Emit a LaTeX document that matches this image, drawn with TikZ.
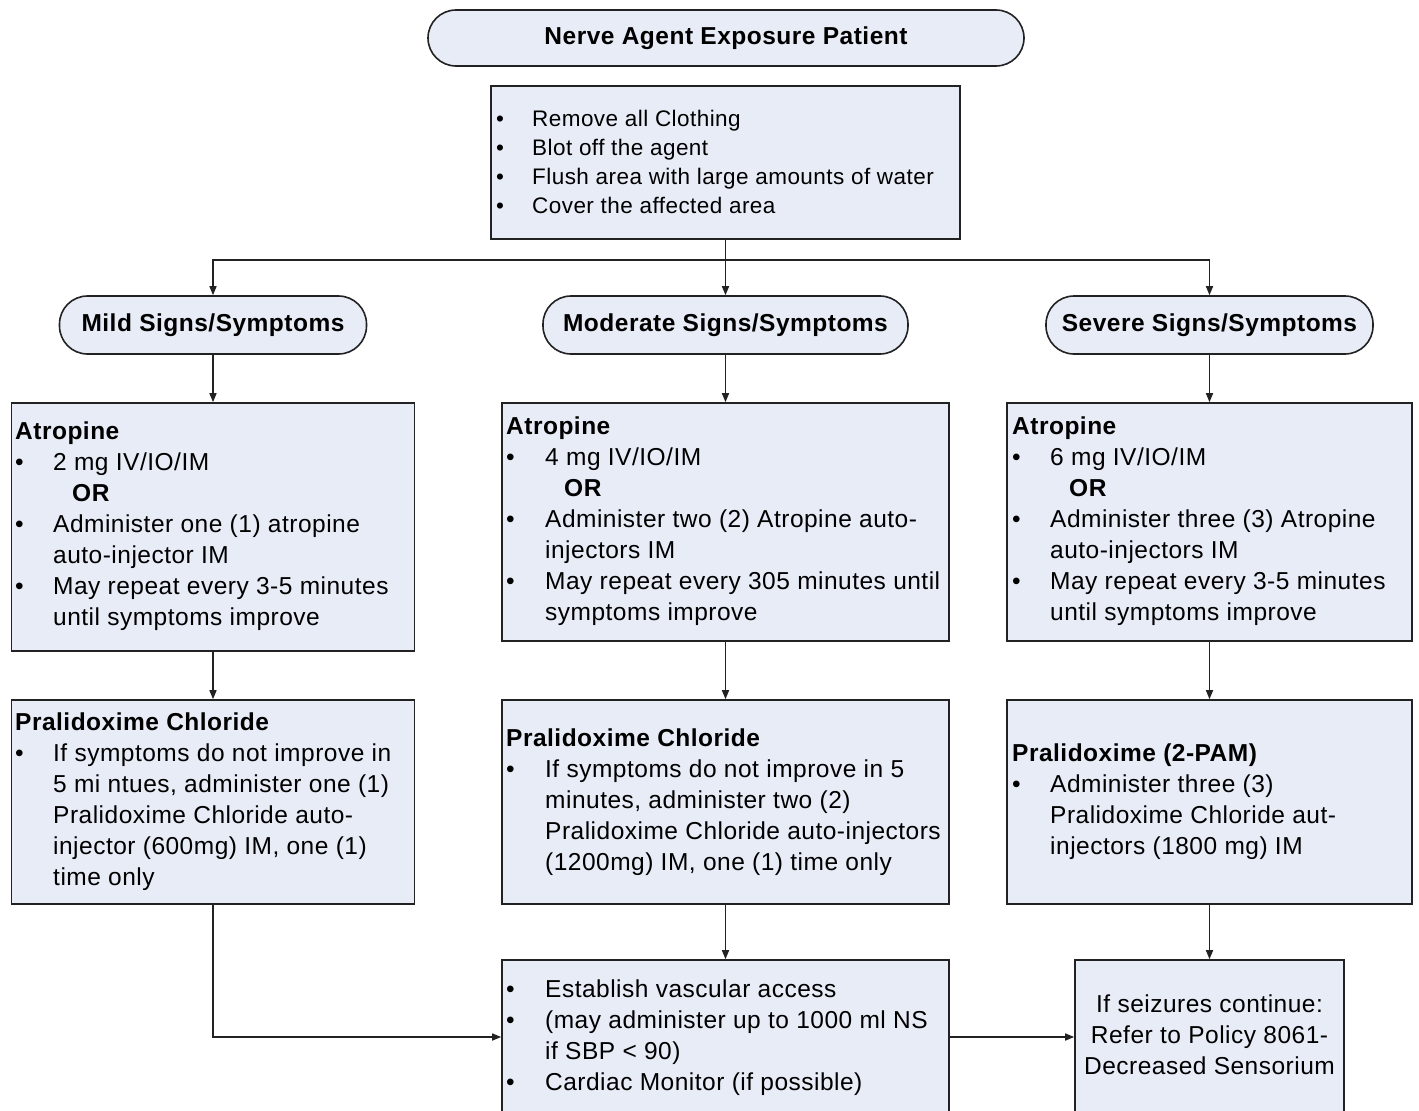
\documentclass[tikz,border=0pt]{standalone}
\usepackage{fontspec}
\setmainfont{Liberation Sans}[LetterSpace=2.0]
\usetikzlibrary{arrows.meta}
\definecolor{boxfill}{HTML}{E7ECF7}
\definecolor{edge}{HTML}{222222}
\newcommand{\bodyfont}{\fontsize{24.5}{31}\selectfont}
\newcommand{\topfont}{\fontsize{22.5}{29}\selectfont}
\newcommand{\Bu}{\textbullet}
\newcommand{\Hd}[1]{\multicolumn{2}{@{}l@{}}{\bfseries #1}}
\newcommand{\OR}{\hspace{19pt}\bfseries OR}
\tikzset{
  boxshape/.style={draw=edge, line width=1.6pt, fill=boxfill, rectangle, inner sep=0pt},
  termshape/.style={draw=edge, line width=1.6pt, fill=boxfill, rectangle, rounded corners=28pt, inner sep=0pt, font=\bodyfont\bfseries},
  txt/.style={anchor=base west, inner sep=0pt, font=\bodyfont},
  arr/.style={draw=edge, line width=1.5pt, -{Triangle[length=9pt,width=7pt]}},
  ln/.style={draw=edge, line width=1.5pt}
}
\begin{document}
\begin{tikzpicture}[x=1pt,y=-1pt]
\useasboundingbox (0,0) rectangle (1419,1111);
% shapes
\node[termshape, minimum width=596pt, minimum height=56pt] (top) at (726,38) {Nerve Agent Exposure Patient};
\node[boxshape, minimum width=469pt, minimum height=153pt] (decon) at (725.5,162.5) {};
\node[termshape, minimum width=307pt, minimum height=58pt] (mild) at (213,325) {Mild Signs/Symptoms};
\node[termshape, minimum width=365pt, minimum height=58pt] (mod) at (725.5,325) {Moderate Signs/Symptoms};
\node[termshape, minimum width=327pt, minimum height=58pt] (sev) at (1209.5,325) {Severe Signs/Symptoms};
\node[boxshape, minimum width=403pt, minimum height=248pt] (atL) at (213,527) {};
\node[boxshape, minimum width=447pt, minimum height=238pt] (atM) at (725.5,522) {};
\node[boxshape, minimum width=405pt, minimum height=238pt] (atR) at (1209.5,522) {};
\node[boxshape, minimum width=403pt, minimum height=204pt] (prL) at (213,802) {};
\node[boxshape, minimum width=447pt, minimum height=204pt] (prM) at (725.5,802) {};
\node[boxshape, minimum width=405pt, minimum height=204pt] (prR) at (1209.5,802) {};
\node[boxshape, minimum width=447pt, minimum height=180pt] (bM) at (725.5,1050) {};
\node[boxshape, minimum width=269pt, minimum height=180pt] (bR) at (1209.5,1050) {};
% texts
\node[txt, font=\topfont] (tdecon) at (496,126) {\begin{tabular}[t]{@{}p{36pt}@{}l@{}}
\Bu & Remove all Clothing\\
\Bu & Blot off the agent\\
\Bu & Flush area with large amounts of water\\
\Bu & Cover the affected area
\end{tabular}};
\node[txt] (tatL) at (15,439) {\begin{tabular}[t]{@{}p{38pt}@{}l@{}}
\Hd{Atropine}\\
\Bu & 2 mg IV/IO/IM\\
 & \OR\\
\Bu & Administer one (1) atropine\\
 & auto-injector IM\\
\Bu & May repeat every 3-5 minutes\\
 & until symptoms improve
\end{tabular}};
\node[txt] (tatM) at (506,434) {\begin{tabular}[t]{@{}p{39pt}@{}l@{}}
\Hd{Atropine}\\
\Bu & 4 mg IV/IO/IM\\
 & \OR\\
\Bu & Administer two (2) Atropine auto-\\
 & injectors IM\\
\Bu & May repeat every 305 minutes until\\
 & symptoms improve
\end{tabular}};
\node[txt] (tatR) at (1012,434) {\begin{tabular}[t]{@{}p{38pt}@{}l@{}}
\Hd{Atropine}\\
\Bu & 6 mg IV/IO/IM\\
 & \OR\\
\Bu & Administer three (3) Atropine\\
 & auto-injectors IM\\
\Bu & May repeat every 3-5 minutes\\
 & until symptoms improve
\end{tabular}};
\node[txt] (tprL) at (15,730) {\begin{tabular}[t]{@{}p{38pt}@{}l@{}}
\Hd{Pralidoxime Chloride}\\
\Bu & If symptoms do not improve in\\
 & 5 mi ntues, administer one (1)\\
 & Pralidoxime Chloride auto-\\
 & injector (600mg) IM, one (1)\\
 & time only
\end{tabular}};
\node[txt] (tprM) at (506,746) {\begin{tabular}[t]{@{}p{39pt}@{}l@{}}
\Hd{Pralidoxime Chloride}\\
\Bu & If symptoms do not improve in 5\\
 & minutes, administer two (2)\\
 & Pralidoxime Chloride auto-injectors\\
 & (1200mg) IM, one (1) time only
\end{tabular}};
\node[txt] (tprR) at (1012,761) {\begin{tabular}[t]{@{}p{38pt}@{}l@{}}
\Hd{Pralidoxime (2-PAM)}\\
\Bu & Administer three (3)\\
 & Pralidoxime Chloride aut-\\
 & injectors (1800 mg) IM
\end{tabular}};
\node[txt] (tbM) at (506,997) {\begin{tabular}[t]{@{}p{39pt}@{}l@{}}
\Bu & Establish vascular access\\
\Bu & (may administer up to 1000 ml NS\\
 & if SBP < 90)\\
\Bu & Cardiac Monitor (if possible)
\end{tabular}};
\node[anchor=base, inner sep=0pt, font=\bodyfont] (tbR) at (1209.5,1012) {\begin{tabular}[t]{@{}c@{}}
If seizures continue:\\
Refer to Policy 8061-\\
Decreased Sensorium
\end{tabular}};
% connectors
\draw[ln] (decon.south) -- ++(0,20) coordinate (br);
\draw[arr] (br) -| (mild.north);
\draw[arr] (br) -| (sev.north);
\draw[arr] (br) -- (mod.north);
\draw[arr] (mild.south) -- (atL.north);
\draw[arr] (mod.south) -- (atM.north);
\draw[arr] (sev.south) -- (atR.north);
\draw[arr] (atL.south) -- (prL.north);
\draw[arr] (atM.south) -- (prM.north);
\draw[arr] (atR.south) -- (prR.north);
\draw[arr] (prM.south) -- (bM.north);
\draw[arr] (prR.south) -- (bR.north);
\draw[arr] (prL.south) |- ([yshift=13pt]bM.west);
\draw[arr] ([yshift=13pt]bM.east) -- ([yshift=13pt]bR.west);
\end{tikzpicture}
\end{document}
